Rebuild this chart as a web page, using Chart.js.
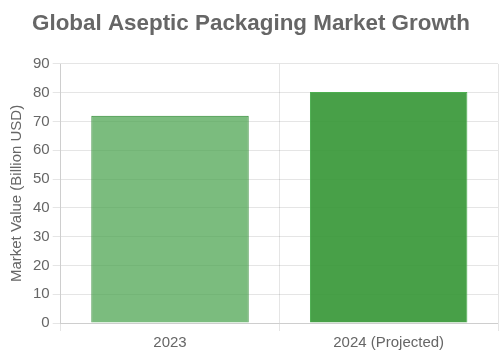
<!DOCTYPE html>
<html>
<head>
<meta charset="utf-8">
<script src="https://cdn.jsdelivr.net/npm/chart.js@4/dist/chart.umd.min.js"></script>
<style>
html,body{margin:0;padding:0;background:#fff;}
#wrap{width:500px;height:357px;}
</style>
</head>
<body>
<div id="wrap"><canvas id="c"></canvas></div>
<script>
const categories = ["2023", "2024 (Projected)"];
const marketValues = [72.0, 80.2];
const yTicks = [0, 10, 20, 30, 40, 50, 60, 70, 80, 90];
const barColors = ["rgba(67,160,71,0.7)", "rgba(56,152,56,0.92)"];
const borderColors = ["rgb(56,142,60)", "rgb(76,175,80)"];

Chart.defaults.font.family = "'Liberation Sans', Arial, Helvetica, sans-serif";
Chart.defaults.color = "#666";

new Chart(document.getElementById("c"), {
  type: "bar",
  data: {
    labels: categories,
    datasets: [{
      label: "Market Value (Billion USD)",
      data: marketValues,
      backgroundColor: barColors,
      borderColor: borderColors,
      borderWidth: 1
    }]
  },
  options: {
    responsive: true,
    maintainAspectRatio: false,
    animation: false,
    layout: { padding: { left: 4, right: 2, top: 0, bottom: 2 } },
    plugins: {
      legend: { display: false },
      title: {
        display: true,
        text: "Global Aseptic Packaging Market Growth",
        color: "#666",
        font: { size: 22.4, weight: "bold" },
        padding: { top: 10, bottom: 27 }
      }
    },
    scales: {
      y: {
        min: yTicks[0],
        max: yTicks[yTicks.length - 1],
        ticks: { stepSize: 10, font: { size: 15 }, color: "#666" },
        title: { display: true, text: "Market Value (Billion USD)", font: { size: 15 }, color: "#666" }
      },
      x: {
        ticks: { font: { size: 15 }, color: "#666" }
      }
    }
  }
});
</script>
</body>
</html>
